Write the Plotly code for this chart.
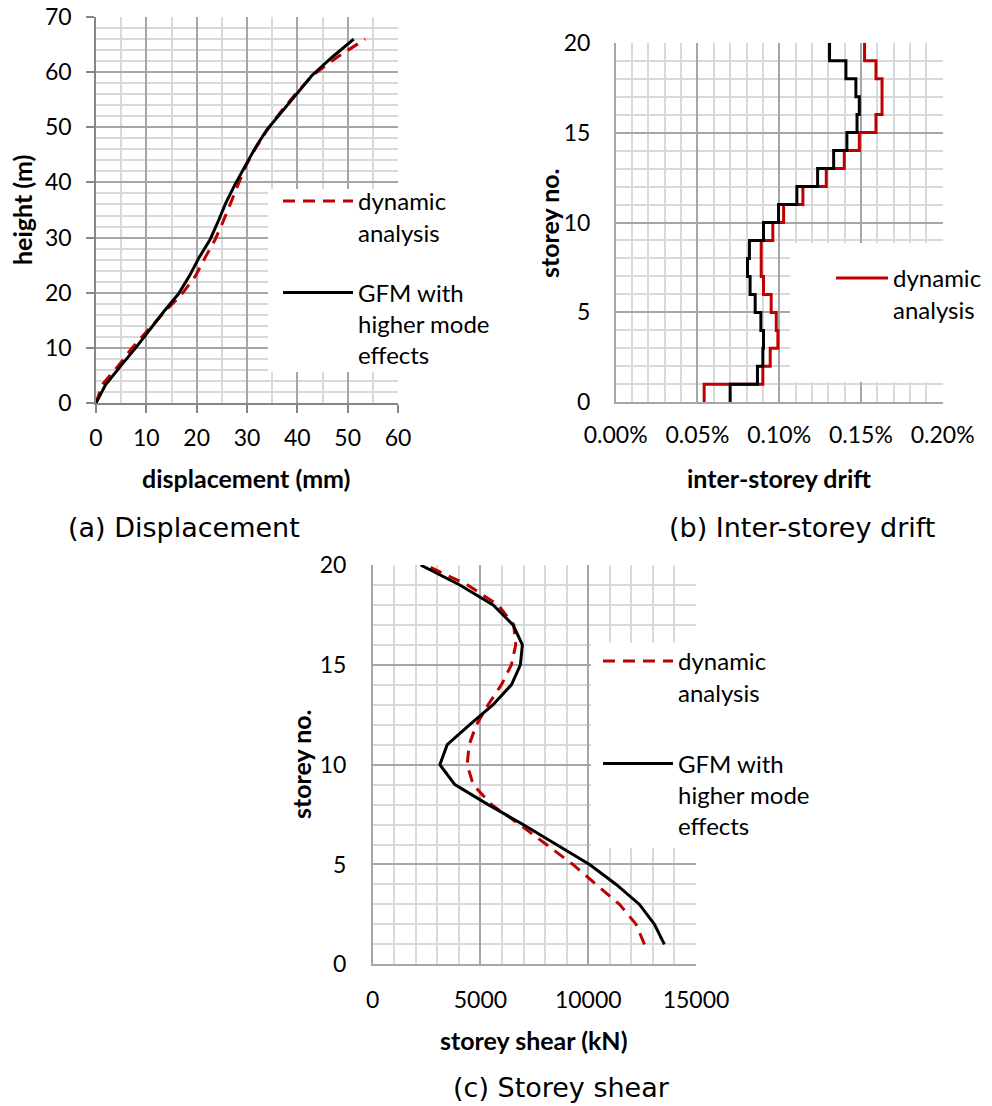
import plotly.graph_objects as go

# ---------------- data ----------------
# (a) displacement profile
height_m = [0, 3.3, 6.6, 9.9, 13.2, 16.5, 19.8, 23.1, 26.4, 29.7, 33.0,
            36.3, 39.6, 42.9, 46.2, 49.5, 52.8, 56.1, 59.4, 62.7, 66.0]
disp_dyn = [0, 1.2, 4.3, 7.1, 10.3, 13.6, 17.1, 19.8, 21.7, 23.7, 25.3,
            26.8, 28.2, 29.7, 31.7, 34.0, 36.7, 39.7, 43.0, 47.9, 53.5]
disp_gfm = [0, 1.9, 4.8, 7.8, 10.6, 13.4, 16.4, 18.6, 20.5, 22.7, 24.3,
            25.8, 27.6, 29.6, 31.6, 33.9, 36.9, 39.9, 42.9, 46.9, 51.2]

# (b) inter-storey drift (%), storeys 1..20
storey_levels = [0, 1, 2, 3, 4, 5, 6, 7, 8, 9, 10, 11, 12, 13, 14, 15, 16, 17, 18, 19, 20]
drift_dyn = [0.0541, 0.0900, 0.0945, 0.0992, 0.0982, 0.0951, 0.0904, 0.0890, 0.0890, 0.0961,
             0.1027, 0.1145, 0.1288, 0.1398, 0.1490, 0.1592, 0.1629, 0.1629, 0.1592, 0.1522]
drift_gfm = [0.0700, 0.0867, 0.0900, 0.0904, 0.0888, 0.0853, 0.0822, 0.0806, 0.0818, 0.0904,
             0.0996, 0.1108, 0.1235, 0.1333, 0.1414, 0.1476, 0.1490, 0.1469, 0.1408, 0.1308]

# (c) storey shear (kN), storeys 1..20
storeys = [1, 2, 3, 4, 5, 6, 7, 8, 9, 10, 11, 12, 13, 14, 15, 16, 17, 18, 19, 20]
shear_dyn = [12608, 12222, 11451, 10370, 9290, 8056, 6821, 5509, 4660, 4383,
             4475, 4815, 5355, 5972, 6435, 6636, 6543, 5818, 4400, 2450]
shear_gfm = [13534, 13071, 12377, 11296, 10062, 8519, 6975, 5355, 3812, 3117,
             3457, 4506, 5586, 6435, 6852, 6944, 6512, 5586, 4043, 2222]

# ---------------- style ----------------
W, H = 992, 1106
FONT = "Lato"
RED = "#c00000"
BLACK = "#000000"
MAJOR = "#a6a6a6"
MINOR = "#d9d9d9"
DASH = "12px,8px"
TICK_SIZE = 23
TITLE_SIZE = 25
LEG_SIZE = 24
CAP_SIZE = 27
CAP_FONT = "DejaVu Sans"


def px_x(p):
    return p / W


def px_y(p):
    return 1 - p / H


fig = go.Figure()

# (a)
fig.add_trace(go.Scatter(x=disp_dyn, y=height_m, mode="lines", name="dynamic<br>analysis",
                         line=dict(color=RED, width=3, dash=DASH),
                         xaxis="x", yaxis="y", legend="legend", legendgroup="a1"))
fig.add_trace(go.Scatter(x=disp_gfm, y=height_m, mode="lines", name="GFM with<br>higher mode<br>effects",
                         line=dict(color=BLACK, width=3),
                         xaxis="x", yaxis="y", legend="legend", legendgroup="a2"))

# (b) stepped profiles
fig.add_trace(go.Scatter(x=drift_dyn + [drift_dyn[-1]], y=storey_levels, mode="lines",
                         name="dynamic<br>analysis", line=dict(color=RED, width=3, shape="vh"),
                         xaxis="x2", yaxis="y2", legend="legend2", legendgroup="b1"))
fig.add_trace(go.Scatter(x=drift_gfm + [drift_gfm[-1]], y=storey_levels, mode="lines",
                         name="GFM with<br>higher mode<br>effects", showlegend=False,
                         line=dict(color=BLACK, width=3, shape="vh"),
                         xaxis="x2", yaxis="y2", legend="legend2"))

# (c)
fig.add_trace(go.Scatter(x=shear_dyn, y=storeys, mode="lines", name="dynamic<br>analysis",
                         line=dict(color=RED, width=3, dash=DASH),
                         xaxis="x3", yaxis="y3", legend="legend3", legendgroup="c1"))
fig.add_trace(go.Scatter(x=shear_gfm, y=storeys, mode="lines", name="GFM with<br>higher mode<br>effects",
                         line=dict(color=BLACK, width=3),
                         xaxis="x3", yaxis="y3", legend="legend3", legendgroup="c2"))


def axis(domain, rng, dtick, minor, anchor, ticks=False, standoff=12, **kw):
    d = dict(domain=domain, range=rng, dtick=dtick, tick0=0, anchor=anchor,
             automargin=False,
             showgrid=True, gridcolor=MAJOR, gridwidth=1.5, zeroline=False,
             showline=True, linecolor=MAJOR, linewidth=1.5,
             minor=dict(dtick=minor, showgrid=True, gridcolor=MINOR, gridwidth=1.5),
             tickfont=dict(family=FONT, size=TICK_SIZE, color="#000000"),
             ticklabelstandoff=standoff, fixedrange=True)
    if ticks:
        d.update(ticks="outside", ticklen=8, tickwidth=1.5, tickcolor="#868686",
                 linecolor="#868686")
    else:
        d.update(ticks="")
    d.update(kw)
    return d


# panel rectangles (pixels)
A = (96, 398, 17, 403)
B = (615.7, 942.7, 42.7, 402.3)
C = (372.7, 696, 565, 964.3)

fig.update_layout(
    template="none",
    width=W, height=H, margin=dict(l=0, r=0, t=0, b=0, pad=0, autoexpand=False),
    paper_bgcolor="white", plot_bgcolor="white",
    font=dict(family=FONT, color="#000000"),
    xaxis=axis([px_x(A[0]), px_x(A[1])], [0, 60], 10, 5, "y", ticks=True, standoff=6),
    yaxis=axis([px_y(A[3]), px_y(A[2])], [0, 70], 10, 2, "x", ticks=True, standoff=10),
    xaxis2=axis([px_x(B[0]), px_x(B[1])], [0, 0.2], 0.05, 0.01, "y2", standoff=11,
                tickformat=".2f", ticksuffix="%"),
    yaxis2=axis([px_y(B[3]), px_y(B[2])], [0, 20], 5, 1, "x2", standoff=19),
    xaxis3=axis([px_x(C[0]), px_x(C[1])], [0, 15000], 5000, 1000, "y3", standoff=14,
                tickformat="d"),
    yaxis3=axis([px_y(C[3]), px_y(C[2])], [0, 20], 5, 1, "x3", standoff=20),
    showlegend=True,
)

leg_common = dict(bgcolor="rgba(0,0,0,0)", borderwidth=0, valign="top",
                  font=dict(family=FONT, size=LEG_SIZE, color="#000000"),
                  xanchor="left", yanchor="top", traceorder="grouped", itemclick=False,
                  itemdoubleclick=False)
fig.update_layout(
    legend=dict(x=px_x(278), y=px_y(179), tracegroupgap=26, itemwidth=70, **leg_common),
    legend2=dict(x=px_x(831), y=px_y(256), tracegroupgap=30, itemwidth=52, **leg_common),
    legend3=dict(x=px_x(598), y=px_y(639), tracegroupgap=37, itemwidth=70, **leg_common),
)

# white legend backgrounds (cover the grid like the chart's legend boxes)
shapes = []
for (x0, x1, y0, y1) in [(268, 460, 189, 372), (790, 992, 243, 382), (591, 800, 643, 848)]:
    shapes.append(dict(type="rect", xref="paper", yref="paper",
                       x0=px_x(x0), x1=px_x(x1), y0=px_y(y1), y1=px_y(y0),
                       fillcolor="white", line=dict(width=0), layer="above"))
fig.update_layout(shapes=shapes)

ann = []


def text(t, x, y, size, bold=False, angle=0, family=FONT, weight=None):
    f = dict(family=family, size=size, color="#000000")
    if bold:
        f["weight"] = "bold"
    if weight is not None:
        f["weight"] = weight
    ann.append(dict(text=t, x=px_x(x), y=px_y(y), xref="paper", yref="paper",
                    showarrow=False, xanchor="center", yanchor="middle",
                    textangle=angle, font=f))


# axis titles
text("height (m)", 22, 210, TITLE_SIZE, bold=True, angle=-90)
text("displacement (mm)", 246, 478, TITLE_SIZE, bold=True)
text("storey no.", 549, 223, TITLE_SIZE, bold=True, angle=-90)
text("inter-storey drift", 779, 478, TITLE_SIZE, bold=True)
text("storey no.", 301, 764, TITLE_SIZE, bold=True, angle=-90)
text("storey shear (kN)", 534, 1040, TITLE_SIZE, bold=True)

# captions
text("(a) Displacement", 184, 527, CAP_SIZE, family=CAP_FONT, weight=400)
text("(b) Inter-storey drift", 802, 527, CAP_SIZE, family=CAP_FONT, weight=400)
text("(c) Storey shear", 561, 1087, CAP_SIZE, family=CAP_FONT, weight=400)

fig.update_layout(annotations=ann)

fig.write_html("out.html")
